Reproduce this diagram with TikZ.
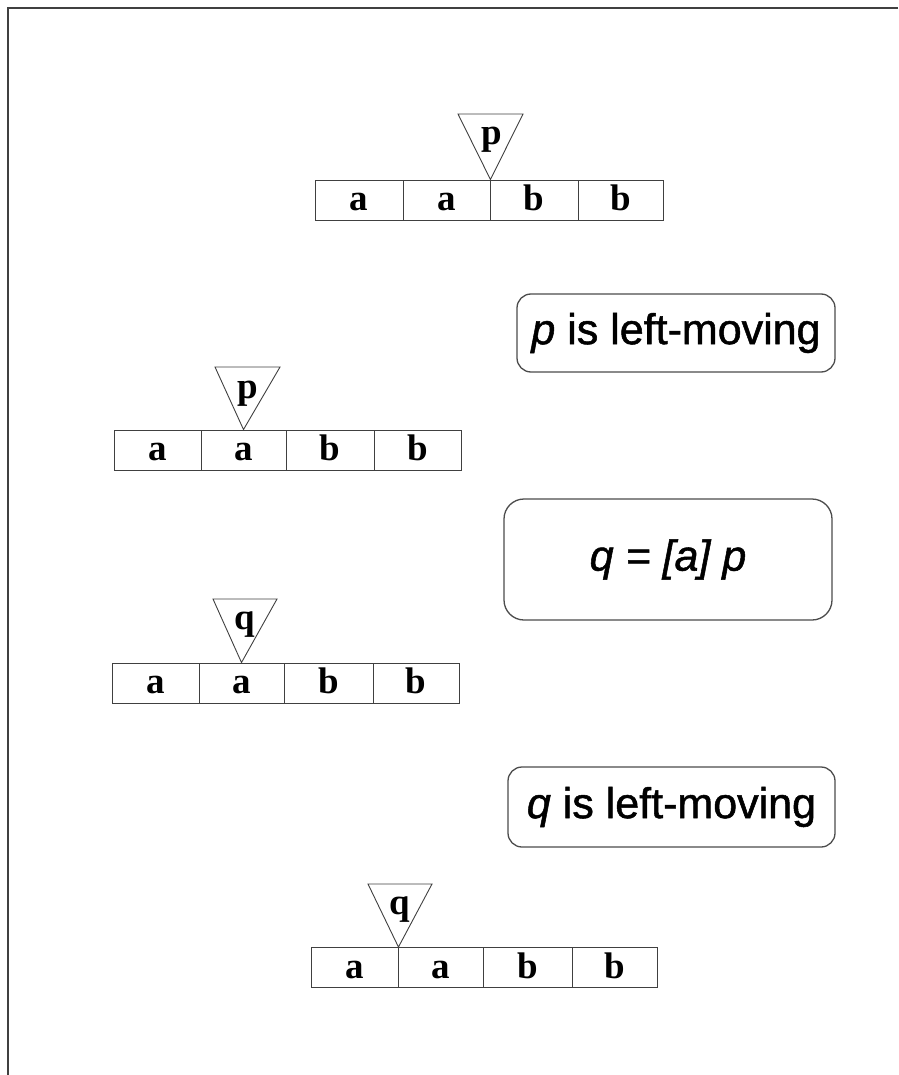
\documentclass[tikz,border=0pt]{standalone}
\usepackage{fontspec}
\setmainfont{Liberation Serif}
\newfontfamily\labelsans[FakeBold=1.2]{Liberation Sans}
\begin{document}
\begin{tikzpicture}[x=1pt,y=-1pt,
  linec/.style={draw=black!75},
  cell/.style={linec, line width=0.9pt, minimum height=40pt, inner sep=0pt,
    text height=21pt, text depth=0pt,
    font=\fontsize{37}{40}\selectfont\bfseries},
  head/.style={linec, line width=0.9pt, fill=white},
  headlabel/.style={inner sep=0pt, anchor=base, font=\fontsize{37}{40}\selectfont\bfseries},
  note/.style={draw=black!70, line width=1.3pt, rounded corners=14pt, inner sep=0pt,
    font=\labelsans\fontsize{43}{48}\selectfont},
  frame/.style={draw=black!75, line width=2pt}]
\useasboundingbox (0,0) rectangle (898,1075);
% outer frame: top and left edges only
\coordinate (fTR) at (898,8);
\coordinate (fTL) at (8,8);
\coordinate (fBL) at (8,1075);
\draw[frame] (fTR) -- (fTL) -- (fBL);

% first tape, head p between the a's and b's
\node[cell, minimum width=88pt] (t1c1) at (359,200) {a};
\node[cell, minimum width=87pt] (t1c2) at (446.5,200) {a};
\node[cell, minimum width=88pt] (t1c3) at (534,200) {b};
\node[cell, minimum width=85pt] (t1c4) at (620.5,200) {b};
\coordinate (h1l) at (458,114);
\coordinate (h1r) at (523,114);
\draw[head] (h1l) -- (h1r) -- (t1c2.north east) -- cycle;
\node[headlabel] (h1) at (492,145) {p};

% note 1
\node[note, minimum width=318pt, minimum height=78pt] (n1) at (676,333)
  {\itshape p\upshape{} is left-moving};

% second tape, head p on the second a
\node[cell, minimum width=87pt] (t2c1) at (157.5,450) {a};
\node[cell, minimum width=85pt] (t2c2) at (243.5,450) {a};
\node[cell, minimum width=88pt] (t2c3) at (330,450) {b};
\node[cell, minimum width=87pt] (t2c4) at (417.5,450) {b};
\coordinate (h2l) at (215,367);
\coordinate (h2r) at (280,367);
\draw[head] (h2l) -- (h2r) -- (t2c2.north) -- cycle;
\node[headlabel] (h2) at (248,398) {p};

% note 2
\node[note, rounded corners=20pt, minimum width=328pt, minimum height=121pt] (n2) at (668,559.5)
  {\itshape q = [a] p};

% third tape, head q on the second a
\node[cell, minimum width=87pt] (t3c1) at (155.5,683) {a};
\node[cell, minimum width=85pt] (t3c2) at (241.5,683) {a};
\node[cell, minimum width=89pt] (t3c3) at (328.5,683) {b};
\node[cell, minimum width=86pt] (t3c4) at (416,683) {b};
\coordinate (h3l) at (213,599);
\coordinate (h3r) at (277,599);
\draw[head] (h3l) -- (h3r) -- (t3c2.north) -- cycle;
\node[headlabel] (h3) at (245,629) {q};

% note 3
\node[note, minimum width=327pt, minimum height=80pt] (n3) at (671.5,807)
  {\itshape q\upshape{} is left-moving};

% fourth tape, head q between the two a's
\node[cell, minimum width=87pt] (t4c1) at (354.5,967.5) {a};
\node[cell, minimum width=85pt] (t4c2) at (440.5,967.5) {a};
\node[cell, minimum width=89pt] (t4c3) at (527.5,967.5) {b};
\node[cell, minimum width=85pt] (t4c4) at (614.5,967.5) {b};
\coordinate (h4l) at (368,884);
\coordinate (h4r) at (432,884);
\draw[head] (h4l) -- (h4r) -- (t4c1.north east) -- cycle;
\node[headlabel] (h4) at (400,914) {q};
\end{tikzpicture}
\end{document}
